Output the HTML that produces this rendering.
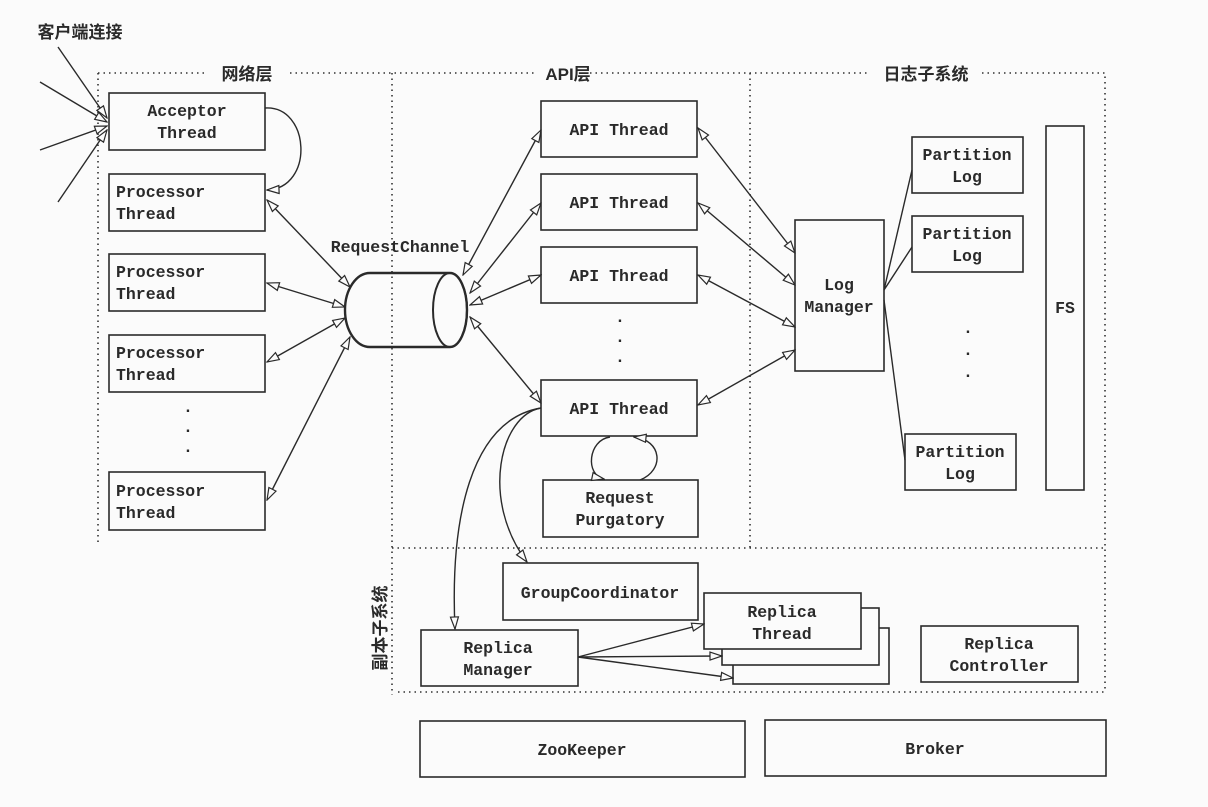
<!DOCTYPE html>
<html><head><meta charset="utf-8"><style>
html,body{margin:0;padding:0;background:#fbfbfb;}
svg{display:block}
text{font-family:"Liberation Mono","Noto Sans CJK SC",monospace;font-weight:bold;font-size:16.5px;fill:#2a2a2a;text-anchor:middle}
.cn{font-family:"Liberation Sans","Noto Sans CJK SC",sans-serif;font-size:17px}
.s{text-anchor:start}
rect{fill:none;stroke:#2a2a2a;stroke-width:1.6}
.l{stroke:#2a2a2a;stroke-width:1.4;fill:none}
.d{stroke:#333;stroke-width:1.6;fill:none;stroke-dasharray:1.5 4}
</style></head><body>
<svg width="1208" height="807" viewBox="0 0 1208 807" xmlns="http://www.w3.org/2000/svg">
<defs>
<marker id="a" viewBox="0 0 14 10" refX="13" refY="5" markerWidth="14" markerHeight="10" markerUnits="userSpaceOnUse" orient="auto-start-reverse">
<path d="M1,1 L13,5 L1,9 Z" fill="#fbfbfb" stroke="#2a2a2a" stroke-width="1.2"/></marker>
</defs>
<path class="d" d="M98,73 H205 M290,73 H535 M590,73 H868 M982,73 H1105 V690"/>
<path class="d" d="M98,73 V545"/>
<path class="d" d="M392,73 V695"/>
<path class="d" d="M750,73 V548"/>
<path class="d" d="M392,548 H1105"/>
<path class="d" d="M398,692 H1105"/>
<text class="cn" x="80" y="38">客户端连接</text>
<text class="cn" x="247" y="80">网络层</text>
<text class="cn" x="568" y="80">API层</text>
<text class="cn" x="926" y="80">日志子系统</text>
<text class="cn" x="386" y="628" transform="rotate(-90 386 628)">副本子系统</text>
<rect x="109" y="93" width="156" height="57"/><text x="187" y="116">Acceptor</text><text x="187" y="138">Thread</text>
<rect x="109" y="174" width="156" height="57"/><text class="s" x="116" y="197">Processor</text><text class="s" x="116" y="219">Thread</text>
<rect x="109" y="254" width="156" height="57"/><text class="s" x="116" y="277">Processor</text><text class="s" x="116" y="299">Thread</text>
<rect x="109" y="335" width="156" height="57"/><text class="s" x="116" y="358">Processor</text><text class="s" x="116" y="380">Thread</text>
<text x="188" y="412">.</text><text x="188" y="432">.</text><text x="188" y="452">.</text>
<rect x="109" y="472" width="156" height="58"/><text class="s" x="116" y="496">Processor</text><text class="s" x="116" y="518">Thread</text>
<path class="l" marker-end="url(#a)" d="M58,47 L107,118"/>
<path class="l" marker-end="url(#a)" d="M40,82 L107,122"/>
<path class="l" marker-end="url(#a)" d="M40,150 L107,126"/>
<path class="l" marker-end="url(#a)" d="M58,202 L107,130"/>
<path class="l" marker-end="url(#a)" d="M265,108 C310,105 315,188 267,190"/>
<text x="400" y="252">RequestChannel</text>
<path d="M370,273 H450 A17,37 0 0 1 450,347 H370 A25,37 0 0 1 370,273 Z" fill="none" stroke="#2a2a2a" stroke-width="2.4"/>
<ellipse cx="450" cy="310" rx="17" ry="37" fill="none" stroke="#2a2a2a" stroke-width="2"/>
<path class="l" marker-start="url(#a)" marker-end="url(#a)" d="M267,200 L350,287"/>
<path class="l" marker-start="url(#a)" marker-end="url(#a)" d="M267,283 L345,307"/>
<path class="l" marker-start="url(#a)" marker-end="url(#a)" d="M267,362 L345,318"/>
<path class="l" marker-start="url(#a)" marker-end="url(#a)" d="M267,500 L350,337"/>
<rect x="541" y="101" width="156" height="56"/><text x="619" y="135">API Thread</text>
<rect x="541" y="174" width="156" height="56"/><text x="619" y="208">API Thread</text>
<rect x="541" y="247" width="156" height="56"/><text x="619" y="281">API Thread</text>
<text x="620" y="322">.</text><text x="620" y="342">.</text><text x="620" y="362">.</text>
<rect x="541" y="380" width="156" height="56"/><text x="619" y="414">API Thread</text>
<path class="l" marker-start="url(#a)" marker-end="url(#a)" d="M463,275 L541,130"/>
<path class="l" marker-start="url(#a)" marker-end="url(#a)" d="M470,293 L541,203"/>
<path class="l" marker-start="url(#a)" marker-end="url(#a)" d="M470,305 L541,275"/>
<path class="l" marker-start="url(#a)" marker-end="url(#a)" d="M470,317 L541,403"/>
<rect x="543" y="480" width="155" height="57"/><text x="620" y="503">Request</text><text x="620" y="525">Purgatory</text>
<path class="l" marker-end="url(#a)" d="M610,437 C588,440 585,475 604,479"/>
<path class="l" marker-end="url(#a)" d="M640,480 C665,470 662,440 634,437"/>
<rect x="795" y="220" width="89" height="151"/><text x="839" y="290">Log</text><text x="839" y="312">Manager</text>
<rect x="912" y="137" width="111" height="56"/><text x="967" y="160">Partition</text><text x="967" y="182">Log</text>
<rect x="912" y="216" width="111" height="56"/><text x="967" y="239">Partition</text><text x="967" y="261">Log</text>
<text x="968" y="333">.</text><text x="968" y="355">.</text><text x="968" y="377">.</text>
<rect x="905" y="434" width="111" height="56"/><text x="960" y="457">Partition</text><text x="960" y="479">Log</text>
<rect x="1046" y="126" width="38" height="364"/><text x="1065" y="313">FS</text>
<path class="l" d="M884,290 L912,170 M884,290 L912,247 M884,300 L905,460"/>
<path class="l" marker-start="url(#a)" marker-end="url(#a)" d="M698,128 L795,253"/>
<path class="l" marker-start="url(#a)" marker-end="url(#a)" d="M698,203 L795,285"/>
<path class="l" marker-start="url(#a)" marker-end="url(#a)" d="M698,275 L795,327"/>
<path class="l" marker-start="url(#a)" marker-end="url(#a)" d="M698,405 L795,350"/>
<rect x="503" y="563" width="195" height="57"/><text x="600" y="598">GroupCoordinator</text>
<rect x="733" y="628" width="156" height="56" style="fill:#fbfbfb"/>
<rect x="722" y="608" width="157" height="57" style="fill:#fbfbfb"/>
<rect x="704" y="593" width="157" height="56" style="fill:#fbfbfb"/><text x="782" y="617">Replica</text><text x="782" y="639">Thread</text>
<rect x="421" y="630" width="157" height="56"/><text x="498" y="653">Replica</text><text x="498" y="675">Manager</text>
<rect x="921" y="626" width="157" height="56"/><text x="999" y="649">Replica</text><text x="999" y="671">Controller</text>
<path class="l" marker-end="url(#a)" d="M541,408 C500,415 480,500 527,562"/>
<path class="l" marker-end="url(#a)" d="M541,408 C470,420 450,520 455,629"/>
<path class="l" marker-end="url(#a)" d="M578,657 L704,624"/>
<path class="l" marker-end="url(#a)" d="M578,657 L722,656"/>
<path class="l" marker-end="url(#a)" d="M578,657 L733,678"/>
<rect x="420" y="721" width="325" height="56"/><text x="582" y="755">ZooKeeper</text>
<rect x="765" y="720" width="341" height="56"/><text x="935" y="754">Broker</text>
</svg>
</body></html>
